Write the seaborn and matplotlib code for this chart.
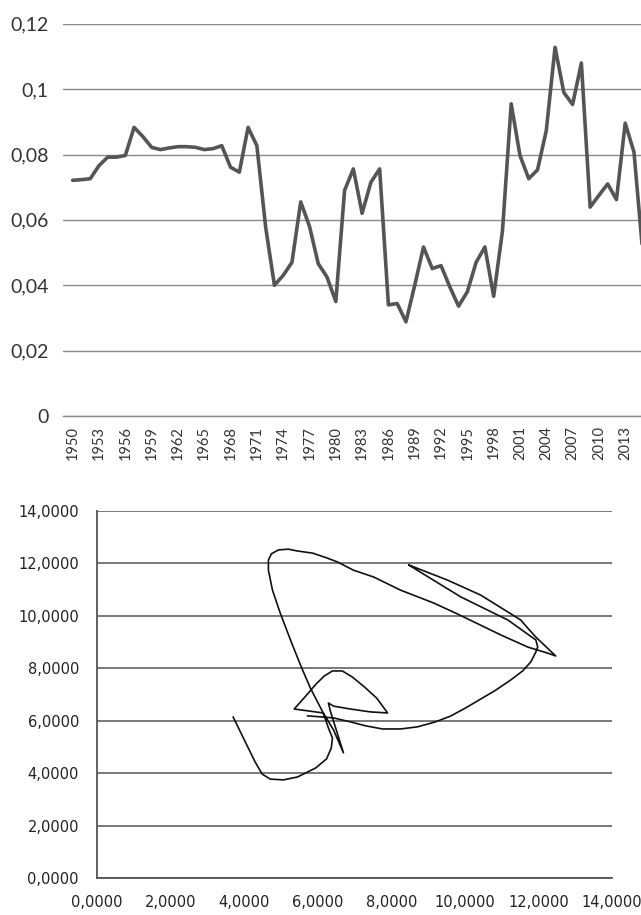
import matplotlib
matplotlib.use("Agg")
import matplotlib.pyplot as plt
import seaborn as sns
from matplotlib.ticker import FuncFormatter, FixedLocator

# --- Data ---
years = list(range(1950, 2016))
rate = [
    0.0721, 0.0723, 0.0726, 0.0766, 0.0792, 0.0792, 0.0797, 0.0883, 0.0855, 0.0822,
    0.0815, 0.0820, 0.0824, 0.0824, 0.0822, 0.0815, 0.0818, 0.0827, 0.0761, 0.0746,
    0.0883, 0.0827, 0.0578, 0.0400, 0.0430, 0.0470, 0.0655, 0.0580, 0.0466, 0.0425,
    0.0350, 0.0690, 0.0756, 0.0620, 0.0715, 0.0756, 0.0340, 0.0344, 0.0288, 0.0400,
    0.0517, 0.0451, 0.0460, 0.0395, 0.0336, 0.0380, 0.0470, 0.0517, 0.0366, 0.0565,
    0.0955, 0.0797, 0.0726, 0.0753, 0.0873, 0.1128, 0.0990, 0.0953, 0.1080, 0.0639,
    0.0675, 0.0710, 0.0662, 0.0896, 0.0807, 0.0500,
]
year_labels = list(range(1950, 2014, 3))

# traced path of the lower chart, in drawing order
phase_x = [
    3.70, 4.03, 4.30, 4.49, 4.71, 5.07, 5.45, 5.94, 6.24, 6.37, 6.40, 6.29, 6.15,
    5.36, 5.66, 5.96, 6.18, 6.40, 6.67, 6.94, 7.27, 7.60, 7.90,
    7.43, 6.89, 6.43, 6.29, 6.35,
    6.70, 6.43, 6.15, 5.80, 5.53, 5.26, 4.98, 4.77, 4.66, 4.66, 4.74, 4.93, 5.20,
    5.45, 5.86, 6.26, 6.54, 6.97, 7.52, 8.25, 9.15, 9.80, 10.98, 11.71, 12.25, 12.47,
    11.93, 11.71, 11.52, 10.43, 9.53, 8.47,
    8.61, 9.89, 11.17, 11.93, 11.98, 11.93, 11.79, 11.57, 11.25, 10.84, 10.43,
    10.02, 9.61, 9.20, 8.71, 8.25, 7.76, 7.30, 6.89, 6.43, 5.72,
]
phase_y = [
    6.15, 5.20, 4.43, 3.97, 3.78, 3.75, 3.86, 4.20, 4.55, 4.97, 5.35, 5.73, 6.30,
    6.45, 6.92, 7.41, 7.71, 7.90, 7.90, 7.67, 7.29, 6.87, 6.30,
    6.34, 6.45, 6.56, 6.68, 6.34,
    4.78, 5.65, 6.30, 7.25, 8.13, 9.08, 10.11, 10.98, 11.74, 12.13, 12.36, 12.51, 12.54,
    12.47, 12.39, 12.20, 12.05, 11.74, 11.48, 10.98, 10.49, 10.07, 9.27, 8.81, 8.58, 8.47,
    9.19, 9.53, 9.84, 10.79, 11.36, 11.94,
    11.82, 10.72, 9.84, 9.08, 8.81, 8.62, 8.24, 7.90, 7.56, 7.17, 6.83,
    6.49, 6.18, 5.96, 5.77, 5.69, 5.69, 5.81, 5.96, 6.11, 6.19,
]
phase_ticks = [0, 2, 4, 6, 8, 10, 12, 14]


def plot_rate(fig):
    ax = fig.add_axes([0.0978, 0.5454, 0.9022, 0.4286])
    sns.lineplot(x=years, y=rate, ax=ax, color="#555555", linewidth=2.6)
    ax.set_xlim(1948.86, 2014.80)
    ax.set_ylim(0, 0.12)
    ax.set_yticks([0, 0.02, 0.04, 0.06, 0.08, 0.1, 0.12])
    ax.yaxis.set_major_formatter(FuncFormatter(lambda v, p: f"{v:g}".replace(".", ",")))
    ax.yaxis.grid(True, color="#8a8a8a", linewidth=1.0)
    ax.xaxis.grid(False)
    for s in ["top", "right", "left"]:
        ax.spines[s].set_visible(False)
    ax.spines["bottom"].set_color("#8a8a8a")
    ax.spines["bottom"].set_linewidth(1.0)
    ax.tick_params(axis="y", length=0, pad=10, labelsize=14, labelcolor="#333333")
    ax.set_xticks(year_labels)
    ax.set_xticklabels([str(y) for y in year_labels], rotation=90, fontsize=10.5, color="#333333")
    ax.xaxis.set_minor_locator(FixedLocator([y + 0.5 for y in range(1949, 2016)]))
    ax.tick_params(axis="x", which="major", length=0, pad=7)
    ax.tick_params(axis="x", which="minor", length=5, width=0.8, color="#8a8a8a", direction="out")
    ax.set_xlabel("")
    ax.set_ylabel("")


def plot_phase(fig):
    ax = fig.add_axes([0.1513, 0.0401, 0.8035, 0.4016])
    sns.lineplot(x=phase_x, y=phase_y, ax=ax, sort=False, estimator=None,
                 color="#111111", linewidth=1.2)
    ax.lines[-1].set_solid_joinstyle("round")
    ax.set_xlim(0, 14)
    ax.set_ylim(0, 14)
    ax.set_xticks(phase_ticks)
    ax.set_yticks(phase_ticks)
    fmt = FuncFormatter(lambda v, p: f"{v:.4f}".replace(".", ","))
    ax.xaxis.set_major_formatter(fmt)
    ax.yaxis.set_major_formatter(fmt)
    ax.yaxis.grid(True, color="#555555", linewidth=1.1)
    ax.xaxis.grid(False)
    ax.spines["top"].set_visible(False)
    ax.spines["right"].set_visible(False)
    for s in ["left", "bottom"]:
        ax.spines[s].set_color("#555555")
        ax.spines[s].set_linewidth(1.3)
    ax.tick_params(axis="both", length=5, width=1.0, color="#555555", direction="out",
                   labelsize=10.5, labelcolor="#222222")
    ax.tick_params(axis="y", pad=8)
    ax.tick_params(axis="x", pad=7)
    ax.set_xlabel("")
    ax.set_ylabel("")


def main():
    sns.set_theme(style="white")
    plt.rcParams["font.family"] = ["Lato", "DejaVu Sans"]
    fig = plt.figure(figsize=(6.41, 9.15), dpi=100)
    plot_rate(fig)
    plot_phase(fig)
    # bottom chart labels look like a wider face
    for lab in fig.axes[1].get_xticklabels() + fig.axes[1].get_yticklabels():
        lab.set_family("DejaVu Sans")
    fig.savefig("out.png", dpi=100)
    plt.close(fig)


if __name__ == "__main__":
    main()
